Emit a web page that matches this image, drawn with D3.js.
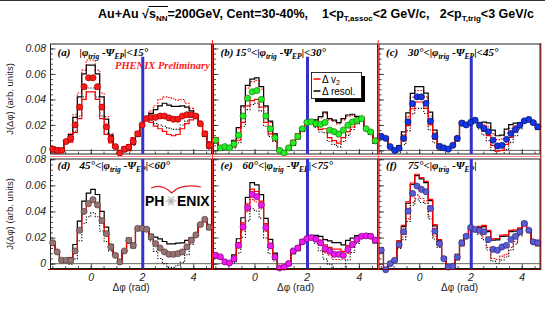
<!DOCTYPE html>
<meta charset="utf-8">
<style>
  body { margin: 0; background: #fff; }
  svg { display: block; }
  .sans { font-family: "Liberation Sans", Arial, Helvetica, sans-serif; }
  .serif { font-family: "Liberation Serif", "Times New Roman", serif; }
  .frame { fill: none; stroke: #222; stroke-width: 1px; }
  .zero { stroke: #666; stroke-width: 1px; }
  .band { fill: none; }
  .axis path.domain { display: none; }
  .axis line { stroke: #222; stroke-width: 0.8px; }
</style>
<svg width="545" height="309"></svg>
<script src="https://cdn.jsdelivr.net/npm/d3@7"></script>
<script>

    // J(dphi) per 10-degree bin, in units of 1e-3
    const ptsA = [1, 0, 0, 7, 9.5, 20, 34, 50, 57, 57, 50, 34, 18.5, 9, 3, -2, 1, 2.5,
                  7, 13, 20, 25, 26, 26, 27, 27, 25.5, 24.5, 24.5, 27, 28, 28, 27, 21, 13, 4];
    const ptsB = [8, 2, 3, 2, 5, 12, 27, 41, 46, 47, 40, 27, 17, 10, 0, -2, 2, 6,
                  11, 17, 22, 22.5, 21, 20.5, 22, 16, 14.7, 12.8, 16, 19.8, 22.4, 23.7, 25, 17, 14.5, 7.5];
    const ptsC = [11, 9.5, 3, 0, 1.7, 9.5, 22.5, 36.7, 42, 42, 37, 23, 11, 3, 2, 1, 4, 9.5,
                  21.5, 20, 22, 23.7, 19.8, 17.2, 14.6, 8, 3.5, 4, 8.7, 13.3, 16.5, 19.8, 23.2, 24.3, 21.8, 18.5];
    const ptsD = [16, 9, 2.6, 2.6, 2.6, 9.7, 25.6, 40, 46, 49, 45, 33, 23, 12.8, 6.4, 1.3, 9.7, 17.9,
                  14, 27, 27, 26.4, 20.5, 15.4, 12, 9, 7.2, 7.2, 7.7, 9, 12.8, 18, 22, 30, 34, 28];
    const ptsE = [6.4, 5.1, 1.3, 0.5, 3.8, 14.1, 28.2, 42.8, 53.1, 51.3, 44.9, 27.7, 13.6, 5.1, -3.3, -2.6, 0, 9.7,
                  12, 16.7, 19.2, 20, 18.7, 15.9, 11.5, 9.5, 7.2, 7.2, 6.4, 10.8, 14.6, 18.5, 21, 21.3, 21, 18];
    const ptsF = [10.3, -4.6, 0, 2.6, 14.6, 24.4, 40.3, 53.8, 59.5, 56.9, 55.1, 42.3, 24.9, 15.4, 3.8, -2.6, -2, 5.1,
                  15.9, 21, 27.7, 26.2, 25.6, 24.4, 18.5, 11, 10.3, 12.8, 14.1, 18.5, 21, 24.4, 30.8, 25.6, 16.7, 15.9];

    // systematic variations (offset from the points, same units): Δv2 = red, Δ resol. = black
    const redSolidA = [2, 2, 1, -1, -3, -6, -9, -10, -11, -11, -10, -9, -6, -3, -1, 1, 2, 2,
                       3, 2, 1, -1, -4, -7, -10, -12, -13, -13, -12, -10, -7, -4, -1, 1, 2, 3];
    const redDotA = [-3, -2, -1, 1, 4, 8, 11, 13, 14, 14, 13, 11, 8, 4, 1, -1, -2, -3,
                     -3, -2, -1, 1, 5, 9, 13, 15, 16, 16, 15, 13, 9, 5, 1, -1, -2, -3];
    const blkSolidA = [-2, -2, -1, 1, 3, 6, 8, 10, 10, 10, 10, 8, 6, 3, 1, -1, -2, -2,
                       -2, -2, -1, 1, 3, 6, 8, 10, 10, 10, 10, 8, 6, 3, 1, -1, -2, -2];
    const blkDotA = [2, 1, 1, -1, -2, -5, -7, -8, -8, -8, -8, -7, -5, -2, -1, 1, 1, 2,
                     2, 1, 1, -1, -2, -5, -7, -8, -8, -8, -8, -7, -5, -2, -1, 1, 1, 2];

    const redSolidB = [2, 1, 1, 0, -2, -4, -5, -6, -7, -7, -6, -5, -4, -2, 0, 1, 1, 2,
                       2, 1, 1, 0, -2, -4, -5, -6, -7, -7, -6, -5, -4, -2, 0, 1, 1, 2];
    const redDotB = [-2, -1, -1, 1, 2, 5, 7, 8, 8, 8, 8, 7, 5, 2, 1, -1, -1, -2,
                     -2, -1, -1, 1, 2, 5, 7, 8, 8, 8, 8, 7, 5, 2, 1, -1, -1, -2];
    const blkSolidB = [-2, -2, -1, 1, 3, 6, 8, 10, 10, 10, 10, 8, 6, 3, 1, -1, -2, -2,
                       -2, -2, -1, 1, 3, 6, 8, 9, 9, 9, 9, 8, 6, 3, 1, -1, -2, -2];
    const blkDotB = [2, 1, 1, -1, -3, -6, -8, -9, -10, -10, -9, -8, -6, -3, -1, 1, 1, 2,
                     2, 1, 1, -1, -3, -6, -8, -9, -10, -10, -9, -8, -6, -3, -1, 1, 1, 2];

    const redSolidC = [1, 1, 0, 0, -1, -2, -3, -4, -4, -4, -4, -3, -2, -1, 0, 0, 1, 1,
                       1, 1, 0, 0, -1, -2, -3, -4, -4, -4, -4, -3, -2, -1, 0, 0, 1, 1];
    const redDotC = [-1, -1, 0, 0, 1, 3, 4, 5, 5, 5, 5, 4, 3, 1, 0, 0, -1, -1,
                     -1, -1, 0, 0, 1, 3, 4, 5, 5, 5, 5, 4, 3, 1, 0, 0, -1, -1];
    const blkSolidC = [-2, -1, -1, 1, 2, 5, 7, 8, 8, 8, 8, 7, 5, 2, 1, -1, -1, -2,
                       -2, -1, -1, 1, 2, 5, 7, 8, 8, 8, 8, 7, 5, 2, 1, -1, -1, -2];
    const blkDotC = [2, 1, 1, -1, -3, -5, -7, -8, -9, -9, -8, -7, -5, -3, -1, 1, 1, 2,
                     2, 1, 1, -1, -3, -5, -7, -8, -9, -9, -8, -7, -5, -3, -1, 1, 1, 2];

    const redSolidD = [0, 0, 0, 0, 0, 1, 1, 1, 1, 1, 1, 1, 1, 0, 0, 0, 0, 0,
                       0, 0, 0, 0, 0, 1, 1, 1, 1, 1, 1, 1, 1, 0, 0, 0, 0, 0];
    const redDotD = [0, 0, 0, 0, 0, -1, -1, -1, -1, -1, -1, -1, -1, 0, 0, 0, 0, 0,
                     0, 0, 0, 0, 0, -1, -1, -1, -1, -1, -1, -1, -1, 0, 0, 0, 0, 0];
    const blkSolidD = [-2, -1, -1, 1, 2, 5, 7, 8, 8, 8, 8, 7, 5, 2, 1, -1, -1, -2,
                       -2, -1, -1, 1, 2, 5, 7, 8, 8, 8, 8, 7, 5, 2, 1, -1, -1, -2];
    const blkDotD = [2, 1, 1, -1, -3, -6, -8, -9, -10, -10, -9, -8, -6, -3, -1, 1, 1, 2,
                     2, 1, 1, -1, -3, -6, -8, -9, -10, -10, -9, -8, -6, -3, -1, 1, 1, 2];

    const redSolidE = [-1, -1, 0, 0, 1, 2, 3, 3, 4, 4, 3, 3, 2, 1, 0, 0, -1, -1,
                       -1, -1, 0, 0, 1, 2, 3, 3, 4, 4, 3, 3, 2, 1, 0, 0, -1, -1];
    const redDotE = [1, 1, 0, 0, -1, -2, -3, -3, -4, -4, -3, -3, -2, -1, 0, 0, 1, 1,
                     1, 1, 0, 0, -1, -2, -3, -3, -4, -4, -3, -3, -2, -1, 0, 0, 1, 1];
    const blkSolidE = [-2, -1, -1, 1, 3, 5, 7, 8, 9, 9, 8, 7, 5, 3, 1, -1, -1, -2,
                       -2, -1, -1, 1, 3, 5, 7, 8, 9, 9, 8, 7, 5, 3, 1, -1, -1, -2];
    const blkDotE = [2, 2, 1, -1, -3, -6, -8, -10, -11, -11, -10, -8, -6, -3, -1, 1, 2, 2,
                     2, 2, 1, -1, -3, -6, -8, -10, -11, -11, -10, -8, -6, -3, -1, 1, 2, 2];

    const redSolidF = [-2, -1, -1, 1, 3, 5, 7, 8, 9, 9, 8, 7, 5, 3, 1, -1, -1, -2,
                       -2, -1, -1, 1, 3, 5, 7, 8, 9, 9, 8, 7, 5, 3, 1, -1, -1, -2];
    const redDotF = [2, 1, 1, -1, -2, -4, -6, -7, -7, -7, -7, -6, -4, -2, -1, 1, 1, 2,
                     2, 1, 1, -1, -2, -4, -6, -7, -7, -7, -7, -6, -4, -2, -1, 1, 1, 2];
    const blkSolidF = [-2, -1, -1, 1, 2, 4, 6, 7, 8, 8, 7, 6, 4, 2, 1, -1, -1, -2,
                       -2, -1, -1, 1, 2, 4, 6, 7, 8, 8, 7, 6, 4, 2, 1, -1, -1, -2];
    const blkDotF = [2, 1, 1, -1, -3, -6, -8, -9, -10, -10, -9, -8, -6, -3, -1, 1, 1, 2,
                     2, 1, 1, -1, -3, -6, -8, -9, -10, -10, -9, -8, -6, -3, -1, 1, 1, 2];

    const panelTags = ["(a)", "(b)", "(c)", "(d)", "(e)", "(f)"];
    const angleLo = [null, "15°", "30°", "45°", "60°", "75°"];
    const angleHi = ["15°", "30°", "45°", "60°", "75°", null];
    const yTickValues = [0, 0.02, 0.04, 0.06, 0.08];
    const xTickValues = [0, 2, 4];
    const blueLineAt = 2.03;

    const markerFill = ["#ff1a1a", "#22ee22", "#1535e6", "#957474", "#f018f0", "#5c5cd2"];
    const markerEdge = ["#7a0000", "#116611", "#001055", "#4a3333", "#6a006a", "#20206a"];

    const panels = [
        {pts: ptsA, rs: redSolidA, rd: redDotA, bs: blkSolidA, bd: blkDotA},
        {pts: ptsB, rs: redSolidB, rd: redDotB, bs: blkSolidB, bd: blkDotB},
        {pts: ptsC, rs: redSolidC, rd: redDotC, bs: blkSolidC, bd: blkDotC},
        {pts: ptsD, rs: redSolidD, rd: redDotD, bs: blkSolidD, bd: blkDotD},
        {pts: ptsE, rs: redSolidE, rd: redDotE, bs: blkSolidE, bd: blkDotE},
        {pts: ptsF, rs: redSolidF, rd: redDotF, bs: blkSolidF, bd: blkDotF}
    ];

    const svg = d3.select("svg");
    const defs = svg.append("defs");

    const cols = [[50.5, 211.5], [213.5, 377.5], [379, 540]];
    const rows = [
        {top: 44, bot: 154, lo: -0.0028, hi: 0.0835, labY: 56, blueTop: 0.0735, ytitle: 99},
        {top: 159, bot: 268.5, lo: -0.0037, hi: 0.0802, labY: 169, blueTop: 0.0802, ytitle: 214}
    ];

    const dphiDomain = [-Math.PI / 2, 3 * Math.PI / 2];
    const binEdges = d3.range(37).map(i => dphiDomain[0] + i * Math.PI / 18);
    const binCenters = binEdges.slice(0, 36).map(e => e + Math.PI / 36);

    // top border
    svg.append("line").attr("x1", 0).attr("x2", 545).attr("y1", 0.5).attr("y2", 0.5)
        .attr("stroke", "#333").attr("stroke-width", 1);

    // title
    const titleBase = 17.5;
    const title = svg.append("text").attr("class", "sans")
        .attr("x", 316).attr("y", titleBase)
        .attr("text-anchor", "middle")
        .style("font-size", "12.5px").style("font-weight", "bold");
    const titleParts = [
        ["Au+Au \u221A", 0], ["s", 0], ["NN", 1], ["=200GeV, Cent=30-40%,\u00A0\u00A0\u00A0\u00A01<p", -1],
        ["T,assoc", 1], ["<2 GeV/c,\u00A0\u00A0\u00A02<p", -1], ["T,trig", 1], ["<3 GeV/c", -1]
    ];
    titleParts.forEach(([s, sub]) => {
        const t = title.append("tspan").text(s);
        if (sub === 1) t.attr("dy", 3.5).style("font-size", "8px");
        if (sub === -1) t.attr("dy", -3.5);
    });
    // overline of the square root
    {
        const n = title.node();
        const x0 = n.getEndPositionOfChar(6).x - 0.5;
        const x1 = n.getEndPositionOfChar(9).x + 0.5;
        svg.append("line").attr("x1", x0).attr("x2", x1)
            .attr("y1", titleBase - 11).attr("y2", titleBase - 11)
            .attr("stroke", "#000").attr("stroke-width", 1);
    }

    const bandStyles = [
        {key: "rd", color: "#ff0000", dash: "1.6,1.4", w: 1.1},
        {key: "bd", color: "#000", dash: "1.2,1.6", w: 1.1},
        {key: "bs", color: "#000", dash: null, w: 1.2},
        {key: "rs", color: "#ff0000", dash: null, w: 1.2}
    ];

    const yScales = [];

    panels.forEach((p, k) => {
        const col = cols[k % 3], row = rows[Math.floor(k / 3)];
        const x = d3.scaleLinear().domain(dphiDomain).range(col);
        const y = d3.scaleLinear().domain([row.lo, row.hi]).range([row.bot, row.top]);
        yScales.push(y);
        const g = svg.append("g");

        defs.append("clipPath").attr("id", "clip" + k).append("rect")
            .attr("x", col[0]).attr("y", row.top)
            .attr("width", col[1] - col[0]).attr("height", row.bot - row.top);

        g.append("rect").attr("class", "frame")
            .attr("x", col[0]).attr("y", row.top)
            .attr("width", col[1] - col[0]).attr("height", row.bot - row.top);

        g.append("line").attr("class", "zero")
            .attr("x1", col[0]).attr("x2", col[1])
            .attr("y1", y(0)).attr("y2", y(0));

        // inward ticks
        g.append("g").attr("class", "axis").attr("transform", `translate(${col[0]},0)`)
            .call(d3.axisRight(y).tickValues(yTickValues).tickSize(5).tickFormat(""));
        g.append("g").attr("class", "axis").attr("transform", `translate(${col[0]},0)`)
            .call(d3.axisRight(y).tickValues(d3.range(0, 0.083, 0.004)).tickSize(2.5).tickFormat(""));
        g.append("g").attr("class", "axis").attr("transform", `translate(0,${row.bot})`)
            .call(d3.axisTop(x).tickValues(xTickValues).tickSize(5).tickFormat(""));
        g.append("g").attr("class", "axis").attr("transform", `translate(0,${row.bot})`)
            .call(d3.axisTop(x).tickValues(d3.range(-1.5, 4.6, 0.5)).tickSize(2.5).tickFormat(""));

        if (k >= 3) {
            const ax = g.append("g").attr("class", "axis")
                .attr("transform", `translate(0,${row.bot})`)
                .call(d3.axisBottom(x).tickValues(xTickValues).tickSize(0).tickPadding(5)
                    .tickFormat(d3.format("d")));
            ax.attr("font-family", null).attr("font-size", null);
            ax.selectAll("text").attr("class", "sans")
                .style("font-size", "10.5px").style("font-style", "italic").attr("fill", "#222");
            svg.append("text").attr("class", "sans")
                .attr("x", (col[0] + col[1]) / 2).attr("y", 291)
                .attr("text-anchor", "middle")
                .style("font-size", "10px").attr("fill", "#222")
                .text("\u0394\u03C6 (rad)");
        }

        // systematic step histograms
        const stepLine = d3.line().x(d => x(d[0])).y(d => y(d[1] / 1000));
        const bands = g.append("g").attr("clip-path", `url(#clip${k})`);
        bandStyles.forEach(s => {
            const vals = p.pts.map((v, i) => v + p[s.key][i]);
            const pts = vals.flatMap((v, i) => [[binEdges[i], v], [binEdges[i + 1], v]]);
            bands.append("path").attr("class", "band")
                .attr("d", stepLine(pts))
                .attr("stroke", s.color).attr("stroke-width", s.w)
                .attr("stroke-dasharray", s.dash);
        });

        // panel label
        g.append("text").attr("class", "serif")
            .attr("x", col[0] + 7).attr("y", row.labY)
            .style("font-size", "11px").style("font-style", "italic").style("font-weight", "bold")
            .text(panelTags[k]);
        const lab = g.append("text").attr("class", "serif")
            .attr("x", col[0] + (k === 1 ? 22 : 29)).attr("y", row.labY)
            .style("font-size", "11px").style("font-style", "italic").style("font-weight", "bold");
        if (angleLo[k]) lab.append("tspan").text(angleLo[k] + "<");
        lab.append("tspan").text("|\u03C6");
        lab.append("tspan").attr("dy", 3).style("font-size", "7.5px").text("trig");
        lab.append("tspan").attr("dy", -3).text(" -\u03A8");
        lab.append("tspan").attr("dy", 3).style("font-size", "7.5px").text("EP");
        lab.append("tspan").attr("dy", -3).text("|" + (angleHi[k] ? "<" + angleHi[k] : ""));

        if (k === 0) {
            g.append("text").attr("class", "serif")
                .attr("x", 115).attr("y", 68.5)
                .style("font-size", "10.5px").style("font-style", "italic").style("font-weight", "bold")
                .attr("fill", "#ff2020")
                .text("PHENIX Preliminary");
        }
        if (k === 3) {
            const logo = g.append("g");
            logo.append("path").attr("d", "M151,188 Q162,183 171.5,193 Q181,183 201,187")
                .attr("fill", "none").attr("stroke", "#e02020").attr("stroke-width", 1.2);
            logo.append("text").attr("class", "sans").attr("x", 145).attr("y", 206)
                .style("font-size", "14px").style("font-weight", "bold").text("PH");
            logo.append("text").attr("class", "sans").attr("x", 177).attr("y", 206)
                .style("font-size", "14px").style("font-weight", "bold").text("ENIX");
            const star = logo.append("g").attr("transform", "translate(171,201)");
            d3.range(12).forEach(j => {
                const a = j * Math.PI / 6, r = j % 2 ? 4 : 5.5;
                star.append("line").attr("x1", 0).attr("y1", 0)
                    .attr("x2", r * Math.cos(a)).attr("y2", r * Math.sin(a))
                    .attr("stroke", "#aaa").attr("stroke-width", 0.9);
            });
        }

        // reaction-plane boundary line
        g.append("line")
            .attr("x1", x(blueLineAt)).attr("x2", x(blueLineAt))
            .attr("y1", y(row.blueTop)).attr("y2", row.bot)
            .attr("stroke", "#3333cc").attr("stroke-width", 3);

        // data points
        g.append("g").selectAll("circle")
            .data(p.pts)
            .join("circle")
            .attr("cx", (d, i) => x(binCenters[i]))
            .attr("cy", d => y(d / 1000))
            .attr("r", 3.1)
            .attr("fill", markerFill[k])
            .attr("stroke", markerEdge[k])
            .attr("stroke-width", 0.6);
    });

    // pad borders
    const border = svg.append("g");
    border.append("line").attr("x1", 212.5).attr("x2", 212.5).attr("y1", 40).attr("y2", 270)
        .attr("stroke", "#ff2020").attr("stroke-width", 1);
    border.append("line").attr("x1", 378.2).attr("x2", 378.2).attr("y1", 40).attr("y2", 270)
        .attr("stroke", "#ff2020").attr("stroke-width", 1);
    border.append("line").attr("x1", 50).attr("x2", 541).attr("y1", 156.5).attr("y2", 156.5)
        .attr("stroke", "#ff8c8c").attr("stroke-width", 1.2);
    border.append("line").attr("x1", 48).attr("x2", 541).attr("y1", 269.5).attr("y2", 269.5)
        .attr("stroke", "#7a0000").attr("stroke-width", 1);
    border.append("line").attr("x1", 540.8).attr("x2", 540.8).attr("y1", 43).attr("y2", 270)
        .attr("stroke", "#7a0000").attr("stroke-width", 1);

    // legend
    const leg = svg.append("g");
    leg.append("rect").attr("x", 315).attr("y", 76).attr("width", 50).attr("height", 26).attr("fill", "#000");
    leg.append("rect").attr("x", 311.5).attr("y", 72.5).attr("width", 50).attr("height", 26)
        .attr("fill", "#fff").attr("stroke", "#000").attr("stroke-width", 0.8);
    const legItems = [["#ff0000", "\u0394 v", "2", 79], ["#000", "\u0394 resol.", null, 91]];
    legItems.forEach(([c, t, sub, yy]) => {
        leg.append("line").attr("x1", 313.5).attr("x2", 320.5).attr("y1", yy).attr("y2", yy)
            .attr("stroke", c).attr("stroke-width", 1.5);
        const tx = leg.append("text").attr("class", "sans").attr("x", 322).attr("y", yy + 3.5)
            .style("font-size", "10px").text(t);
        if (sub) tx.append("tspan").attr("dy", 2.5).style("font-size", "7px").text(sub);
    });

    // y-axis tick labels and titles of the left column
    [0, 3].forEach(k => {
        const row = rows[Math.floor(k / 3)];
        svg.append("g").selectAll("text")
            .data(yTickValues)
            .join("text")
            .attr("class", "sans")
            .attr("x", cols[0][0] - 4.5)
            .attr("y", d => yScales[k](d))
            .attr("dy", "0.35em")
            .attr("text-anchor", "end")
            .style("font-size", "10.5px").style("font-style", "italic")
            .attr("fill", "#222")
            .text(d => d === 0 ? "0" : d3.format(".2f")(d));
        svg.append("text").attr("class", "sans")
            .attr("transform", `translate(10,${row.ytitle}) rotate(-90)`)
            .attr("text-anchor", "middle").attr("dy", "0.35em")
            .style("font-size", "9.5px").attr("fill", "#222")
            .text("J(\u0394\u03C6) (arb. units)");
    });

</script>
